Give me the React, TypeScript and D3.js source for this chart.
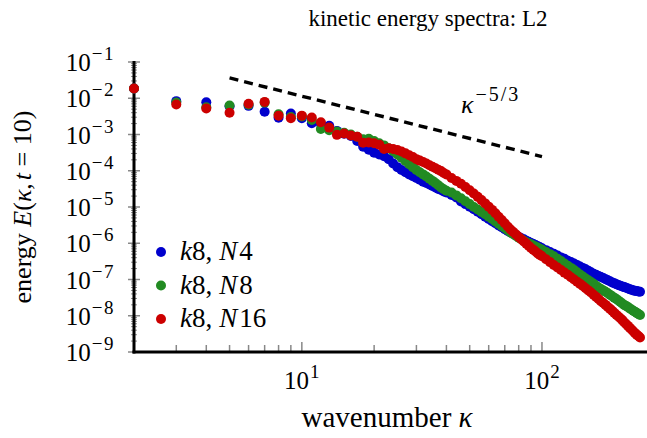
import React from 'react';
import * as d3 from 'd3';

// wavenumbers: every integer up to 40, then every 2nd to 100, then every 4th to 256
const kappa = [...d3.range(2, 41), ...d3.range(42, 101, 2), ...d3.range(104, 257, 4)];

// log10 E(kappa, t=10) for each run
const logN4 = [
  -1.73, -2.08, -2.11, -2.22, -2.21, -2.37, -2.54, -2.42, -2.55,
  -2.69, -2.70, -2.76, -2.90, -2.98, -3.04, -3.18, -3.34, -3.42, -3.50,
  -3.55, -3.60, -3.68, -3.80, -3.90, -3.98, -4.04, -4.10, -4.15, -4.20,
  -4.25, -4.30, -4.34, -4.38, -4.42, -4.46, -4.50, -4.53, -4.57, -4.60,
  -4.67, -4.74, -4.85, -4.92, -4.99, -5.06, -5.13, -5.20, -5.27, -5.33,
  -5.39, -5.45, -5.51, -5.56, -5.61, -5.66, -5.70, -5.74, -5.78, -5.82,
  -5.86, -5.89, -5.93, -5.96, -5.99, -6.02, -6.05, -6.08, -6.11, -6.14,
  -6.19, -6.24, -6.29, -6.34, -6.39, -6.43, -6.48, -6.52, -6.56, -6.60,
  -6.64, -6.68, -6.72, -6.76, -6.80, -6.84, -6.87, -6.90, -6.93, -6.96,
  -6.99, -7.02, -7.05, -7.08, -7.10, -7.13, -7.15, -7.17, -7.19, -7.21,
  -7.23, -7.25, -7.27, -7.28, -7.30, -7.31, -7.32, -7.33, -7.34,
];

const logN8 = [
  -1.73, -2.12, -2.25, -2.20, -2.18, -2.12, -2.44, -2.52, -2.50,
  -2.60, -2.85, -2.88, -2.92, -2.95, -3.00, -3.06, -3.13, -3.12, -3.18,
  -3.24, -3.30, -3.38, -3.46, -3.55, -3.64, -3.73, -3.82, -3.90, -3.98,
  -4.04, -4.10, -4.16, -4.22, -4.28, -4.34, -4.40, -4.46, -4.51, -4.55,
  -4.60, -4.68, -4.76, -4.84, -4.92, -5.00, -5.07, -5.14, -5.20, -5.27,
  -5.33, -5.40, -5.46, -5.52, -5.58, -5.64, -5.70, -5.75, -5.80, -5.85,
  -5.89, -5.93, -5.97, -6.00, -6.03, -6.06, -6.09, -6.12, -6.15, -6.18,
  -6.24, -6.30, -6.36, -6.43, -6.49, -6.56, -6.62, -6.68, -6.74, -6.80,
  -6.86, -6.92, -6.97, -7.02, -7.07, -7.12, -7.17, -7.22, -7.26, -7.30,
  -7.34, -7.38, -7.42, -7.46, -7.50, -7.54, -7.58, -7.62, -7.66, -7.70,
  -7.73, -7.76, -7.80, -7.83, -7.86, -7.89, -7.92, -7.95, -7.98,
];

const logN16 = [
  -1.73, -2.17, -2.28, -2.40, -2.15, -2.10, -2.48, -2.55, -2.48,
  -2.53, -2.66, -2.81, -3.01, -2.97, -3.03, -3.06, -3.23, -3.22, -3.24,
  -3.28, -3.40, -3.38, -3.40, -3.43, -3.47, -3.52, -3.57, -3.62, -3.68,
  -3.72, -3.76, -3.80, -3.85, -3.89, -3.93, -3.97, -4.01, -4.06, -4.10,
  -4.20, -4.28, -4.36, -4.45, -4.54, -4.63, -4.72, -4.81, -4.90, -4.99,
  -5.08, -5.17, -5.27, -5.36, -5.45, -5.54, -5.62, -5.69, -5.76, -5.83,
  -5.89, -5.95, -6.01, -6.07, -6.13, -6.18, -6.23, -6.28, -6.32, -6.36,
  -6.44, -6.52, -6.60, -6.67, -6.74, -6.81, -6.87, -6.94, -7.00, -7.06,
  -7.12, -7.18, -7.24, -7.30, -7.36, -7.42, -7.48, -7.54, -7.60, -7.65,
  -7.70, -7.76, -7.81, -7.86, -7.92, -7.97, -8.02, -8.07, -8.12, -8.18,
  -8.23, -8.28, -8.33, -8.38, -8.43, -8.48, -8.52, -8.56, -8.60,
];

const series = [
  { label: 'N4', n: '4', color: '#0000cd', logE: logN4 },
  { label: 'N8', n: '8', color: '#228b22', logE: logN8 },
  { label: 'N16', n: '16', color: '#cc0000', logE: logN16 },
];

// Kolmogorov reference slope
const refKappa = [5, 100];
const refC = 0.53;

const yDecades = [-9, -8, -7, -6, -5, -4, -3, -2, -1];
const xDecades = [1, 2];

const W = 647;
const H = 438;
const left = 134;
const right = 640;
const top = 62;
const bottom = 352;
const serif = '"Liberation Serif", "DejaVu Serif", serif';

const App = () => {
  const x = d3.scaleLog().domain([2, 256]).range([left, right]);
  const y = d3.scaleLog().domain([1e-9, 1e-1]).range([bottom, top]);

  const yMinor = d3.range(-9, -1).flatMap(p => d3.range(2, 10).map(m => m * 10 ** p));
  const xMinor = [3, 4, 5, 6, 7, 8, 9, 20, 30, 40, 50, 60, 70, 80, 90];

  const refLine = d3.line<number>()
    .x(k => x(k))
    .y(k => y(refC * Math.pow(k, -5 / 3)));

  return (
    <svg width={W} height={H} style={{ position: 'absolute', left: 0, top: 0, background: '#fff' }}
      fontFamily={serif}>
      <text x={428} y={26} textAnchor="middle" fontSize={23}>kinetic energy spectra: L2</text>

      {/* y ticks */}
      {yMinor.map((v, i) => (
        <line key={`ym${i}`} x1={left - 3} x2={left + 3} y1={y(v)} y2={y(v)} stroke="#888" strokeWidth={1} />
      ))}
      {yDecades.map(p => (
        <g key={`y${p}`}>
          <line x1={left - 6} x2={left + 6} y1={y(10 ** p)} y2={y(10 ** p)} stroke="#888" strokeWidth={1.5} />
          <text x={115} y={y(10 ** p) + 9} textAnchor="end" fontSize={25}>
            10<tspan fontSize={19} dx={1} dy={-11} letterSpacing={1.5}>{`\u2212${-p}`}</tspan>
          </text>
        </g>
      ))}

      {/* x ticks */}
      {xMinor.map(v => (
        <line key={`xm${v}`} x1={x(v)} x2={x(v)} y1={bottom} y2={bottom - 7} stroke="#888" strokeWidth={1.5} />
      ))}
      {xDecades.map(p => (
        <g key={`x${p}`}>
          <line x1={x(10 ** p)} x2={x(10 ** p)} y1={bottom} y2={bottom - 10} stroke="#888" strokeWidth={1.5} />
          <text x={x(10 ** p)} y={389} textAnchor="middle" fontSize={25}>
            10<tspan fontSize={19} dx={1} dy={-11}>{p}</tspan>
          </text>
        </g>
      ))}

      <line x1={left} x2={left} y1={top - 1} y2={bottom + 1.5} stroke="#000" strokeWidth={3} />
      <line x1={left - 1.5} x2={W} y1={bottom} y2={bottom} stroke="#000" strokeWidth={3} />

      <path d={refLine(refKappa) ?? ''} fill="none" stroke="#000" strokeWidth={3.4} strokeDasharray="9,6" />
      <text x={461} y={113} fontSize={26} fontStyle="italic">
        κ<tspan fontStyle="normal" fontSize={20} dx={2} dy={-12} letterSpacing={2}>−5/3</tspan>
      </text>

      {series.map(s => (
        <g key={s.label} fill={s.color}>
          {kappa.map((k, i) => (
            <circle key={k} cx={x(k)} cy={y(10 ** s.logE[i])} r={5} />
          ))}
        </g>
      ))}

      {/* legend */}
      {series.map((s, i) => (
        <g key={`lg${s.label}`}>
          <circle cx={161} cy={252 + i * 33.5} r={5} fill={s.color} />
          <text x={180} y={260 + i * 33.5} fontSize={27}>
            <tspan fontStyle="italic">k</tspan>8,
            <tspan dx={7} fontStyle="italic">N</tspan><tspan dx={2}>{s.n}</tspan>
          </text>
        </g>
      ))}

      <text x={387} y={427} textAnchor="middle" fontSize={29}>
        wavenumber <tspan fontStyle="italic">κ</tspan>
      </text>
      <text transform="translate(31,207) rotate(-90)" textAnchor="middle" fontSize={26}>
        energy <tspan fontStyle="italic">E</tspan>(<tspan fontStyle="italic">κ</tspan>,
        <tspan dx={3} fontStyle="italic">t</tspan> = 10)
      </text>
    </svg>
  );
};

export default App;
